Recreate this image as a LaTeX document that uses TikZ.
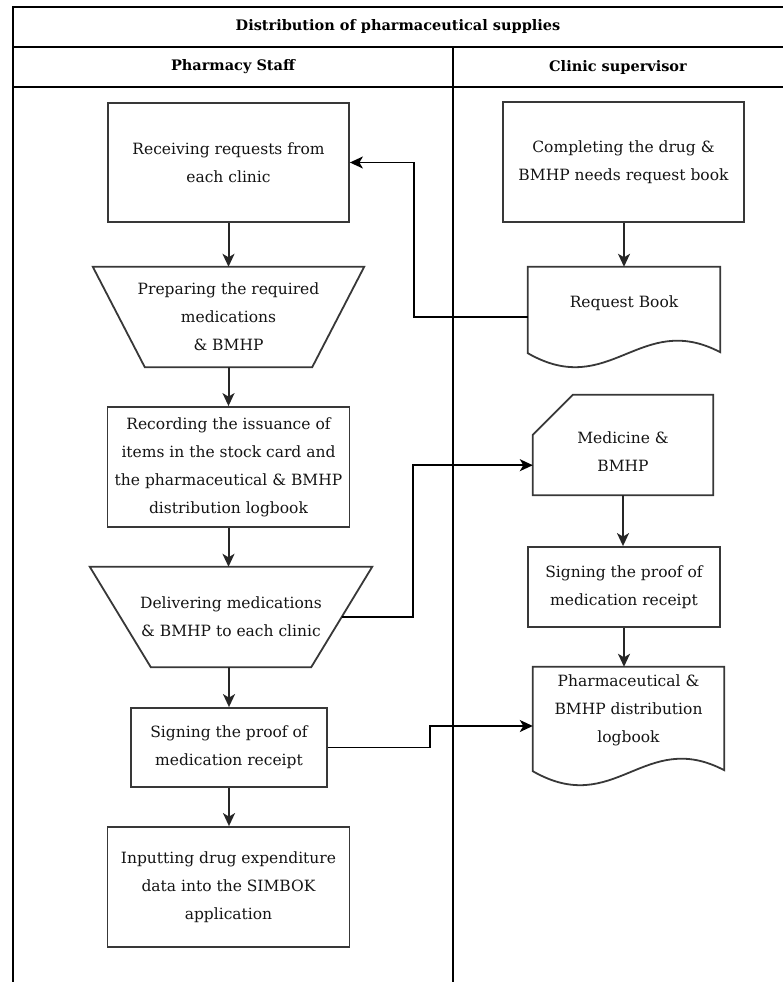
\documentclass[tikz,border=0pt]{standalone}
\usepackage{fontspec}
\setmainfont{DejaVu Serif}
\usetikzlibrary{calc,arrows.meta}

\tikzset{
  lane/.style={draw=black, line width=1.8pt},
  box/.style={draw=black!78, line width=1.8pt},
  txt/.style={text=black!92, align=center, inner sep=0pt,
              font=\fontsize{15.5}{28}\selectfont},
  head/.style={text=black, inner sep=0pt,
               font=\fontsize{14.5}{18}\selectfont\bfseries},
  procbox/.style={box, txt},
  conn/.style={draw=black!85, line width=2pt,
               -{Stealth[length=13pt,width=12pt,inset=3.5pt]}},
  link/.style={draw=black, line width=1.5pt,
               -{Stealth[length=13pt,width=12pt,inset=3.5pt]}}
}

% document symbol with a wavy lower edge
\newcommand\docoutline[1]{%
  \draw[box] (#1.north west) -- (#1.north east)
    -- ($(#1.south east)+(0,-15)$)
    .. controls ($(#1.south east)+(-80,-57)$) and ($(#1.south west)+(82,33)$)
    .. ($(#1.south west)+(0,-14)$) -- cycle;}

\begin{document}
\begin{tikzpicture}[x=1pt,y=-1pt]
\useasboundingbox (0,0) rectangle (783,982);

% swimlane frame
\draw[lane] (783,7) -- (13,7) -- (13,982);
\draw[lane] (13,47) -- (783,47);
\draw[lane] (13,87) -- (783,87);
\draw[lane] (453,47) -- (453,982);

\node[head] (title) at (398,27) {Distribution of pharmaceutical supplies};
\node[head] (lanea) at (233,67) {Pharmacy Staff};
\node[head] (laneb) at (618,67) {Clinic supervisor};

% Pharmacy Staff lane
\node[procbox, minimum width=241, minimum height=119] (recv) at (228.5,162.5)
  {Receiving requests from\\each clinic};

\node[txt, minimum width=271, minimum height=100] (prep) at (228.5,317)
  {Preparing the required\\medications\\\& BMHP};
\draw[box] (prep.north west) -- (prep.north east)
  -- ($(prep.south east)+(-52,0)$) -- ($(prep.south west)+(52,0)$) -- cycle;

\node[procbox, minimum width=242, minimum height=120] (rec) at (228.5,467)
  {Recording the issuance of\\items in the stock card and\\
   \makebox[0pt]{the pharmaceutical \& BMHP}\\distribution logbook};

\node[txt, minimum width=282, minimum height=100] (deliv) at (231,617)
  {Delivering medications\\\& BMHP to each clinic};
\draw[box] (deliv.north west) -- (deliv.north east)
  -- ($(deliv.south east)+(-61,0)$) -- ($(deliv.south west)+(61,0)$) -- cycle;

\node[procbox, minimum width=196, minimum height=79] (signl) at (229,747.5)
  {Signing the proof of\\medication receipt};

\node[procbox, minimum width=242, minimum height=120] (inp) at (228.5,887)
  {Inputting drug expenditure\\data into the SIMBOK\\application};

% Clinic supervisor lane
\node[procbox, minimum width=241, minimum height=120] (comp) at (623.5,162)
  {Completing the drug \&\\BMHP needs request book};

\node[minimum width=192, minimum height=100, inner sep=0pt,
      label={[txt, name=rbtext, yshift=14pt]center:Request Book}] (rb) at (624,317) {};
\docoutline{rb}

\node[minimum width=180, minimum height=100, inner sep=0pt,
      label={[txt, name=medtext, yshift=-7pt]center:{Medicine \&\\BMHP}}] (med) at (623,445) {};
\draw[box] ($(med.north west)+(40,0)$) -- (med.north east) -- (med.south east)
  -- (med.south west) -- ($(med.north west)+(0,40)$) -- cycle;

\node[procbox, minimum width=192, minimum height=80] (signr) at (624,587)
  {Signing the proof of\\medication receipt};

\node[minimum width=191, minimum height=118, inner sep=0pt,
      label={[txt, name=lbtext, yshift=15.5pt]center:{Pharmaceutical \&\\BMHP distribution\\logbook}}] (lb) at (628.5,726) {};
\docoutline{lb}

% flow within the lanes
\draw[conn] (recv.south) -- (recv.south |- prep.north);
\draw[conn] (prep.south) -- (prep.south |- rec.north);
\draw[conn] (rec.south) -- (rec.south |- deliv.north);
\draw[conn] (signl.north |- deliv.south) -- (signl.north);
\draw[conn] (signl.south) -- (signl.south |- inp.north);
\draw[conn] (rb.north |- comp.south) -- (rb.north);
\draw[conn] (med.south) -- (med.south |- signr.north);
\draw[conn] (signr.south) -- (signr.south |- lb.north);

% flow across the lanes
\draw[link] (rb.west) -| ($(recv.east)+(64,0)$) -- (recv.east);
\draw[link] ($(deliv.east)+(-30.5,0)$) -| ($(med.south west)+(-120,-30)$)
  -- ($(med.south west)+(0,-30)$);
\draw[link] (signl.east) -| ($(lb.west)+(-103,0)$) -- (lb.west);
\end{tikzpicture}
\end{document}
